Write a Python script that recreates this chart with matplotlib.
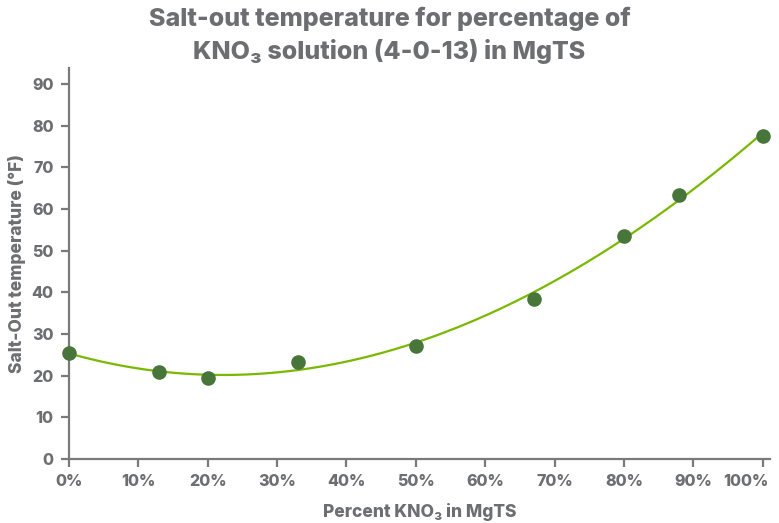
import numpy as np
import matplotlib.pyplot as plt
from matplotlib.transforms import ScaledTranslation

plt.rcParams['font.family'] = ['Inter', 'DejaVu Sans']

# percent KNO3 in MgTS and measured salt-out temperature (°F)
pct_kno3 = [0, 13, 20, 33, 50, 67, 80, 88, 100]
salt_out_f = [25.4, 20.9, 19.4, 23.3, 27.1, 38.5, 53.6, 63.4, 77.5]
y_ticks = [0, 10, 20, 30, 40, 50, 60, 70, 80, 90]
x_ticks = [0, 10, 20, 30, 40, 50, 60, 70, 80, 90, 100]

GREY = '#6d6e71'
LINE_GREEN = '#7ab800'
DOT_GREEN = '#48753a'

fig = plt.figure(figsize=(7.79, 5.23), dpi=100)
ax = fig.add_axes([0.0886, 0.1224, 0.8994, 0.7476])

# polynomial trendline through the measurements
coef = np.polyfit(pct_kno3, salt_out_f, 3)
xs = np.linspace(0, 100, 200)
ax.plot(xs, np.polyval(coef, xs), color=LINE_GREEN, lw=1.6, zorder=2)
ax.scatter(pct_kno3, salt_out_f, s=90, color=DOT_GREEN, zorder=3, clip_on=False)

ax.set_xlim(0, 101)
ax.set_ylim(0, 93.8)
ax.set_xticks(x_ticks)
ax.set_xticklabels([f'{v}%' for v in x_ticks])
ax.set_yticks(y_ticks)

for side in ('top', 'right'):
    ax.spines[side].set_visible(False)
for side in ('left', 'bottom'):
    ax.spines[side].set_color('#7a7a7a')
    ax.spines[side].set_linewidth(1.6)
ax.tick_params(colors='#7a7a7a', width=1.6, length=6, labelsize=11.5,
               labelcolor=GREY, pad=5)
for lbl in ax.get_xticklabels() + ax.get_yticklabels():
    lbl.set_fontweight('heavy')
# keep the last label inside the figure
last = ax.get_xticklabels()[-1]
last.set_horizontalalignment('right')
last.set_transform(last.get_transform() + ScaledTranslation(4.5 / 72, 0, fig.dpi_scale_trans))

ax.set_xlabel('Percent KNO₃ in MgTS', fontsize=12.5, fontweight='heavy',
              color=GREY, labelpad=10)
ax.set_ylabel('Salt-Out temperature (°F)', fontsize=12.5, fontweight='heavy',
              color=GREY, labelpad=4)
fig.suptitle('Salt-out temperature for percentage of\nKNO₃ solution (4-0-13) in MgTS',
             fontsize=18, fontweight='heavy', color=GREY, y=0.988,
             linespacing=1.4)

fig.savefig('out.png', dpi=100)
